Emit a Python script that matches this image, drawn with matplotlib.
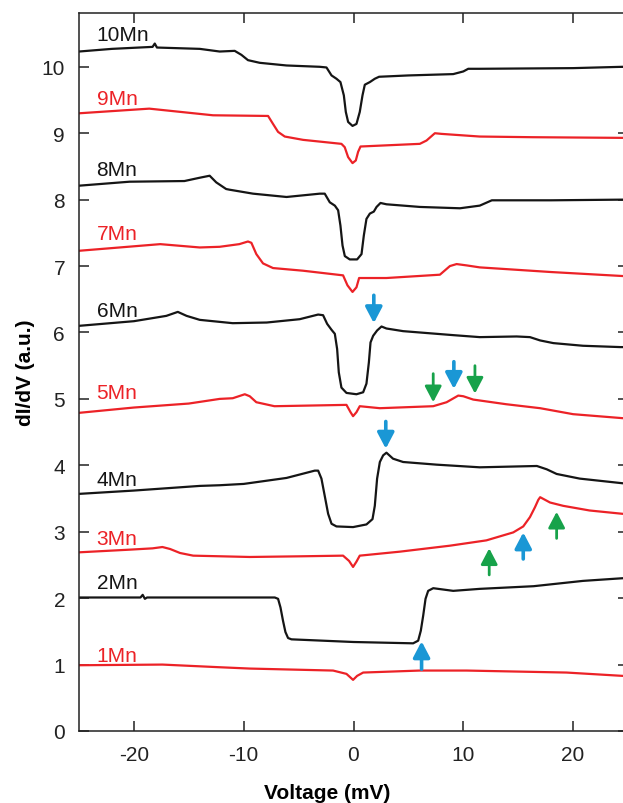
import matplotlib
matplotlib.use("Agg")
import matplotlib.pyplot as plt

plt.rcParams['font.family'] = ['Liberation Sans', 'DejaVu Sans']
plt.rcParams['axes.unicode_minus'] = False

# ---------------- data ----------------
v_1 = [-25, -17.4, -12.2, -9.45, -1.86, -0.64, -0.04, 0.33, 0.88, 6.04, 10.3, 19.4, 24.5, 25]
g_1 = [0.99, 1.00, 0.96, 0.94, 0.91, 0.86, 0.77, 0.83, 0.88, 0.91, 0.91, 0.88, 0.83, 0.83]

v_2 = [-25, -19.4, -19.2, -19.0, -18.8, -12.0, -7.17, -6.87, -6.65, -6.42, -6.2, -5.96, -5.65, 0,
       5.43, 5.89, 6.13, 6.35, 6.56, 6.8, 7.26, 9.08, 11.5, 16.4, 20.9, 24.5, 25]
g_2 = [2.01, 2.01, 2.05, 1.99, 2.01, 2.01, 2.01, 1.99, 1.86, 1.66, 1.49, 1.40, 1.38, 1.34,
       1.32, 1.36, 1.51, 1.74, 1.99, 2.11, 2.15, 2.11, 2.14, 2.18, 2.26, 2.30, 2.30]

v_3 = [-25, -20.4, -18.3, -17.4, -16.7, -15.8, -14.6, -9.45, -4.9, -0.95, -0.4, -0.04, 0.27, 0.57,
       4.22, 8.78, 12.1, 14.55, 15.46, 16.07, 16.53, 16.83, 17.0, 17.9, 19.1, 21.5, 24.5, 25]
g_3 = [2.69, 2.73, 2.75, 2.77, 2.74, 2.68, 2.64, 2.62, 2.63, 2.64, 2.56, 2.47, 2.55, 2.64,
       2.70, 2.79, 2.87, 2.99, 3.08, 3.22, 3.37, 3.48, 3.52, 3.44, 3.39, 3.32, 3.27, 3.27]

v_4 = [-25, -20, -14, -12.2, -10, -6.1, -3.53, -3.22, -2.92, -2.62, -2.31, -2.0, -1.55, -0.04,
       1.18, 1.73, 1.94, 2.15, 2.4, 2.7, 3.0, 3.6, 4.52, 7.57, 11.5, 16.7, 17.6, 18.5, 20.6, 24.5, 25]
g_4 = [3.57, 3.62, 3.69, 3.70, 3.72, 3.81, 3.92, 3.92, 3.80, 3.54, 3.27, 3.12, 3.08, 3.07,
       3.11, 3.19, 3.39, 3.80, 4.05, 4.15, 4.19, 4.10, 4.05, 4.01, 3.97, 3.99, 3.94, 3.87, 3.80, 3.73, 3.73]

v_5 = [-25, -20, -15, -12.19, -11, -9.9, -9.45, -8.85, -7.2, -0.64, -0.27, -0.04, 0.27, 0.57,
       2.4, 7.26, 8.48, 9.54, 10.0, 10.9, 13.9, 17.0, 20.0, 24.5, 25]
g_5 = [4.79, 4.87, 4.93, 5.00, 5.01, 5.07, 5.04, 4.95, 4.89, 4.91, 4.80, 4.74, 4.80, 4.89,
       4.86, 4.89, 4.95, 5.05, 5.04, 4.99, 4.92, 4.86, 4.77, 4.71, 4.71]

v_6 = [-25, -20, -17.05, -16.0, -15.2, -14.0, -11.0, -7.9, -4.9, -3.22, -2.77, -2.4, -2.0, -1.7,
       -1.49, -1.34, -1.1, -0.64, 0.27, 0.88, 1.18, 1.4, 1.55, 1.79, 2.15, 2.55, 3.0, 4.52, 9.08,
       11.5, 14.86, 16.07, 17.0, 18.2, 20.9, 24.3, 25]
g_6 = [6.10, 6.17, 6.25, 6.31, 6.25, 6.19, 6.14, 6.15, 6.20, 6.27, 6.26, 6.13, 6.04, 5.98,
       5.75, 5.40, 5.17, 5.09, 5.07, 5.10, 5.23, 5.55, 5.85, 5.95, 6.03, 6.09, 6.06, 6.02, 5.96,
       5.93, 5.94, 5.93, 5.88, 5.84, 5.80, 5.78, 5.78]

v_7 = [-25, -17.6, -14.0, -12.19, -10.4, -9.61, -9.3, -8.85, -8.24, -7.33, -4.6, -0.95, -0.55,
       -0.09, 0.27, 0.51, 3.0, 7.87, 8.78, 9.39, 10.3, 11.5, 18, 24.5, 25]
g_7 = [7.23, 7.33, 7.28, 7.29, 7.33, 7.37, 7.35, 7.18, 7.04, 6.97, 6.93, 6.86, 6.71,
       6.61, 6.68, 6.82, 6.82, 6.87, 7.00, 7.03, 7.01, 6.98, 6.91, 6.85, 6.85]

v_8 = [-25, -20.4, -15.4, -14.0, -13.1, -12.5, -11.6, -11.3, -9.15, -6.1, -3.07, -2.62, -2.16,
       -1.70, -1.40, -1.19, -1.0, -0.79, -0.34, 0.33, 0.73, 0.94, 1.18, 1.49, 1.85, 2.10, 2.46,
       3.0, 6.05, 9.7, 11.5, 12.6, 18, 24.5, 25]
g_8 = [8.21, 8.27, 8.28, 8.33, 8.36, 8.26, 8.16, 8.15, 8.09, 8.04, 8.09, 8.09, 7.96,
       7.91, 7.84, 7.61, 7.31, 7.15, 7.10, 7.10, 7.18, 7.46, 7.71, 7.79, 7.82, 7.89, 7.95,
       7.93, 7.89, 7.87, 7.91, 7.99, 7.99, 8.00, 8.00]

v_9 = [-25, -18.6, -12.8, -7.78, -7.33, -6.87, -6.26, -4.59, -1.1, -0.8, -0.49, -0.09, 0.21,
       0.42, 0.64, 6.04, 6.65, 7.41, 8.02, 11.5, 16.3, 24.5, 25]
g_9 = [9.30, 9.37, 9.27, 9.26, 9.14, 9.02, 8.95, 8.90, 8.84, 8.79, 8.64, 8.55, 8.59,
       8.72, 8.80, 8.84, 8.89, 9.00, 8.99, 8.95, 8.94, 8.93, 8.93]

v_10 = [-25, -22, -18.3, -18.1, -17.9, -14, -12.19, -10.82, -10.21, -9.61, -8.54, -6.1, -3.07,
        -2.46, -2.0, -1.55, -1.19, -0.88, -0.70, -0.49, -0.09, 0.27, 0.57, 0.82, 1.03, 1.49,
        1.94, 2.33, 5.0, 9.08, 10.0, 10.45, 11.5, 20, 24.5, 25]
g_10 = [10.23, 10.27, 10.30, 10.35, 10.29, 10.27, 10.23, 10.24, 10.18, 10.10, 10.06, 10.02, 10.00,
        9.99, 9.87, 9.82, 9.77, 9.57, 9.32, 9.17, 9.11, 9.14, 9.32, 9.57, 9.73, 9.77,
        9.82, 9.85, 9.87, 9.89, 9.93, 9.97, 9.97, 9.98, 10.00, 10.00]

curves_v = [v_1, v_2, v_3, v_4, v_5, v_6, v_7, v_8, v_9, v_10]
curves_g = [g_1, g_2, g_3, g_4, g_5, g_6, g_7, g_8, g_9, g_10]
labels = ['1Mn', '2Mn', '3Mn', '4Mn', '5Mn', '6Mn', '7Mn', '8Mn', '9Mn', '10Mn']
label_y = [1.14, 2.23, 2.90, 3.78, 5.09, 6.33, 7.49, 8.46, 9.53, 10.48]

# arrows: x position, tail y, tip y, colour key
arrow_v = [1.85, 7.26, 9.14, 11.06, 2.94, 12.36, 15.46, 18.5, 6.2]
arrow_tail = [6.56, 5.38, 5.56, 5.50, 4.66, 2.35, 2.59, 2.90, 0.93]
arrow_tip = [6.14, 4.95, 5.15, 5.08, 4.25, 2.75, 2.99, 3.30, 1.35]
arrow_kind = ['blue', 'green', 'blue', 'green', 'blue', 'green', 'blue', 'green', 'blue']

xticks = [-20, -10, 0, 10, 20]
yticks = [0, 1, 2, 3, 4, 5, 6, 7, 8, 9, 10]

# ---------------- drawing ----------------
RED = '#ec2227'
BLACK = '#151515'
COLORS = {'blue': '#1a97d5', 'green': '#17a24a'}

fig = plt.figure(figsize=(6.23, 8.04), dpi=100)
ax = fig.add_axes([79 / 623, 72 / 804, 549 / 623, 718 / 804])

for i, (v, g) in enumerate(zip(curves_v, curves_g)):
    col = RED if i % 2 == 0 else BLACK
    ax.plot(v, g, color=col, lw=1.6, solid_joinstyle='round')
    ax.text(-23.4, label_y[i], labels[i], color=col, fontsize=15, ha='left', va='center')

for xv, yt, yh, k in zip(arrow_v, arrow_tail, arrow_tip, arrow_kind):
    lw = 2.6 if k == 'blue' else 2.0
    ax.annotate('', xy=(xv, yh), xytext=(xv, yt),
                arrowprops=dict(arrowstyle='-|>,head_length=0.8,head_width=0.42',
                                mutation_scale=12, color=COLORS[k], lw=lw,
                                shrinkA=0, shrinkB=0))

ax.set_xlim(-25, 25)
ax.set_ylim(0, 10.81)
ax.set_xticks(xticks)
ax.set_yticks(yticks)
ax.tick_params(direction='in', length=7, width=1.1, top=True, right=True,
               labelsize=15, pad=10, colors='#222222')
for s in ax.spines.values():
    s.set_linewidth(1.1)
    s.set_color('#222222')

ax.set_xlabel('Voltage (mV)', fontsize=15, fontweight='bold')
ax.xaxis.set_label_coords(0.452, -0.072)
ax.set_ylabel('dI/dV (a.u.)', fontsize=15, fontweight='bold', labelpad=5)

fig.savefig('out.png', dpi=100)
